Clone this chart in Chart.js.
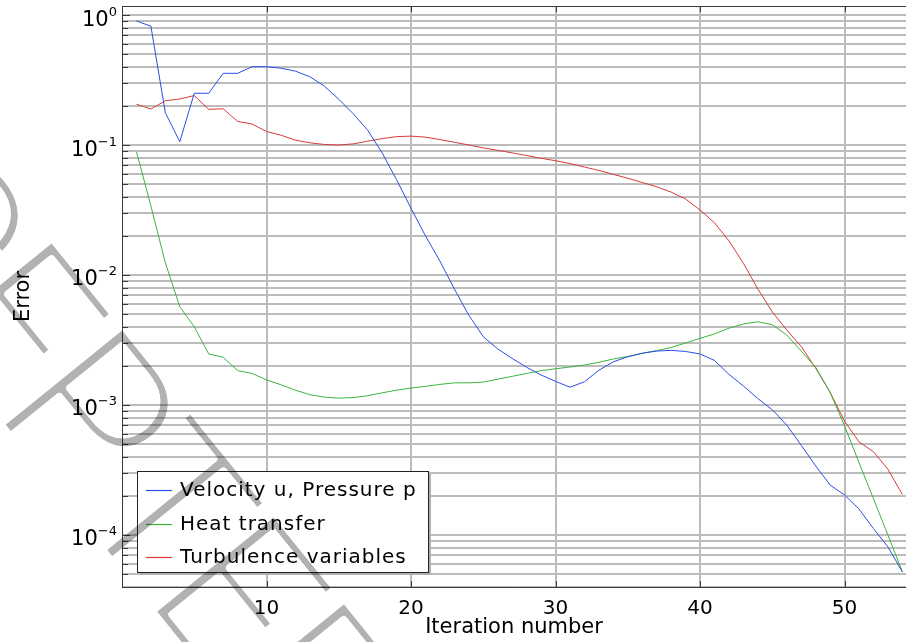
<!DOCTYPE html>
<html>
<head>
<meta charset="utf-8">
<title>Convergence plot</title>
<script src="https://cdn.jsdelivr.net/npm/chart.js@4.4.1/dist/chart.umd.min.js"></script>
<style>
  html, body { margin: 0; padding: 0; background: #ffffff; }
  #wrap { width: 906px; height: 642px; }
</style>
</head>
<body>
<div id="wrap"><canvas id="chart" width="906" height="642"></canvas></div>
<script>
// Solver error per iteration for each group of variables
const iterations = [
  1, 2, 3, 4, 5, 6, 7, 8, 9, 10, 11, 12, 13, 14, 15, 16, 17, 18,
  19, 20, 21, 22, 23, 24, 25, 26, 27, 28, 29, 30, 31, 32, 33, 34, 35, 36,
  37, 38, 39, 40, 41, 42, 43, 44, 45, 46, 47, 48, 49, 50, 51, 52, 53, 54
];
const velocityPressure = [
  0.90, 0.82, 0.177, 0.106, 0.25, 0.25, 0.356, 0.356, 0.40, 0.40, 0.39, 0.37, 0.335, 0.284, 0.225, 0.174, 0.13, 0.087,
  0.054, 0.0326, 0.0200, 0.0128, 0.0078, 0.0049, 0.00335, 0.0027, 0.00228, 0.00195, 0.0017, 0.00152, 0.00137, 0.00151, 0.00185, 0.00215, 0.00235, 0.0025,
  0.0026, 0.00263, 0.00258, 0.00247, 0.0022, 0.00172, 0.0014, 0.00112, 0.00092, 0.00070, 0.00049, 0.00034, 0.000242, 0.000203, 0.000158, 0.000112, 0.000081, 0.000052
];
const heatTransfer = [
  0.089, 0.034, 0.0124, 0.0057, 0.0040, 0.00247, 0.00233, 0.00184, 0.00175, 0.00156, 0.00143, 0.0013, 0.0012, 0.00115, 0.00113, 0.00114, 0.00118, 0.00124,
  0.0013, 0.00135, 0.00139, 0.00144, 0.00148, 0.00148, 0.0015, 0.00158, 0.00166, 0.00175, 0.00184, 0.0019, 0.00196, 0.00203, 0.00213, 0.00226, 0.00236, 0.0025,
  0.00262, 0.00277, 0.0030, 0.00326, 0.00352, 0.0039, 0.0042, 0.00437, 0.00415, 0.00345, 0.0026, 0.00195, 0.00125, 0.00069, 0.00036, 0.00019, 0.0001, 0.000052
];
const turbulenceVariables = [
  0.206, 0.189, 0.219, 0.226, 0.24, 0.188, 0.19, 0.152, 0.145, 0.127, 0.119, 0.109, 0.104, 0.101, 0.100, 0.102, 0.107, 0.112,
  0.116, 0.117, 0.115, 0.110, 0.105, 0.100, 0.095, 0.091, 0.087, 0.083, 0.079, 0.0757, 0.072, 0.0677, 0.0637, 0.0594, 0.0555, 0.0515,
  0.0477, 0.0434, 0.0384, 0.0316, 0.0252, 0.0183, 0.0123, 0.0078, 0.0052, 0.00377, 0.00282, 0.00192, 0.00125, 0.00075, 0.00052, 0.000437, 0.00032, 0.000205
];

const seriesNames = ['Velocity u, Pressure p', 'Heat transfer', 'Turbulence variables'];
const seriesColors = ['#2a4ee6', '#3cb43c', '#d63a3a'];

const xTickValues = [10, 20, 30, 40, 50];
const yDecades = [-5, -4, -3, -2, -1, 0];
const xTitle = 'Iteration number';
const yTitle = 'Error';
const stampText = 'ACCEPTED';

const X_MIN = 0, X_MAX = 54.25;
const Y_MIN = 3.98e-5, Y_MAX = 1.173;

const FONT = '"DejaVu Sans", "Liberation Sans", sans-serif';
const GRID = '#bcbcbc';
const AXIS = '#3a3a3a';

// every 1..9 multiple of each decade inside the visible range
const yTickValues = [];
yDecades.forEach(e => {
  for (let k = 1; k <= 9; k++) {
    const v = k * Math.pow(10, e);
    if (v >= Y_MIN && v <= Y_MAX) yTickValues.push(v);
  }
});

// exponent of a power of ten, or null for the in-between ticks
function decadeOf(v) {
  const l = Math.log10(v);
  const e = Math.round(l);
  return Math.abs(l - e) < 1e-9 ? e : null;
}

function toPoints(ys) { return iterations.map((x, i) => ({ x: x, y: ys[i] })); }

// frame: top border and inward tick marks on all axes
const framePlugin = {
  id: 'frame',
  afterDraw(chart) {
    const { ctx, chartArea: a, scales } = chart;
    ctx.save();
    ctx.strokeStyle = AXIS;
    ctx.lineWidth = 1;
    ctx.beginPath();
    ctx.moveTo(a.left, a.top + 0.5);
    ctx.lineTo(a.right, a.top + 0.5);
    scales.y.ticks.forEach(t => {
      const py = Math.round(scales.y.getPixelForValue(t.value)) + 0.5;
      const len = decadeOf(t.value) !== null ? 8 : 6;
      ctx.moveTo(a.left, py);
      ctx.lineTo(a.left + len, py);
    });
    scales.x.ticks.forEach(t => {
      const px = Math.round(scales.x.getPixelForValue(t.value)) + 0.5;
      ctx.moveTo(px, a.bottom);
      ctx.lineTo(px, a.bottom - 6);
      ctx.moveTo(px, a.top);
      ctx.lineTo(px, a.top + 6);
    });
    ctx.stroke();

    // decade labels as "10" with a raised exponent
    const yScale = scales.y;
    ctx.fillStyle = '#000';
    ctx.textAlign = 'right';
    ctx.textBaseline = 'alphabetic';
    yScale.ticks.forEach(t => {
      const e = decadeOf(t.value);
      if (e === null) return;
      const py = yScale.getPixelForValue(t.value);
      const exp = String(e).replace('-', '\u2212');
      ctx.font = '13px ' + FONT;
      const ew = ctx.measureText(exp).width;
      ctx.fillText(exp, a.left - 5, py + 0.5);
      ctx.font = '21px ' + FONT;
      ctx.fillText('10', a.left - 5 - ew, py + 10.5);
    });
    ctx.restore();
  }
};

// boxed legend inside the lower-left of the plot
const boxLegendPlugin = {
  id: 'boxLegend',
  afterDraw(chart) {
    const { ctx } = chart;
    const sets = chart.data.datasets;
    const left = 137, top = 471, width = 291, height = 101;
    ctx.save();
    ctx.fillStyle = '#b0b0b0';
    ctx.fillRect(left + 3, top + 3, width, height);
    ctx.fillStyle = '#ffffff';
    ctx.fillRect(left, top, width, height);
    ctx.strokeStyle = '#222222';
    ctx.lineWidth = 1;
    ctx.strokeRect(left + 0.5, top + 0.5, width, height);
    ctx.font = '20px ' + FONT;
    ctx.textBaseline = 'middle';
    ctx.fillStyle = '#000000';
    if ('letterSpacing' in ctx) ctx.letterSpacing = '1px';
    const rows = [490, 524, 557];
    sets.forEach((ds, i) => {
      const y = rows[i];
      ctx.strokeStyle = ds.borderColor;
      ctx.lineWidth = 1.2;
      ctx.beginPath();
      ctx.moveTo(146, y + 0.5);
      ctx.lineTo(172, y + 0.5);
      ctx.stroke();
      ctx.fillText(ds.label, 180, y + 1);
    });
    ctx.restore();
  }
};

// faint diagonal stamp laid over the whole figure; the filled glyphs are
// intersected with slightly shifted copies of themselves to thin the strokes
const stampPlugin = {
  id: 'stamp',
  afterDraw(chart) {
    const { ctx, width, height } = chart;
    const off = document.createElement('canvas');
    off.width = width;
    off.height = height;
    const o = off.getContext('2d');
    o.font = '300 218px Roboto, "Open Sans", Lato, sans-serif';
    const mE = o.measureText('E');
    const pitch = 112;
    if ('letterSpacing' in o) o.letterSpacing = (pitch - mE.width) + 'px';
    const lead = o.measureText(stampText.slice(0, 3)).width;
    o.translate(51.7, 239.3);
    o.rotate(51 * Math.PI / 180);
    o.textBaseline = 'alphabetic';
    const sx = mE.actualBoundingBoxLeft - lead, sy = mE.actualBoundingBoxAscent;
    o.fillStyle = '#000';
    o.fillText(stampText, sx, sy);
    o.globalCompositeOperation = 'destination-in';
    const r = 2.5;
    for (let k = 0; k < 12; k++) {
      const ang = k * Math.PI / 6;
      o.fillText(stampText, sx + r * Math.cos(ang), sy + r * Math.sin(ang));
    }
    ctx.save();
    ctx.globalAlpha = 0.30;
    ctx.drawImage(off, 0, 0);
    ctx.restore();
  }
};

const chart = new Chart(document.getElementById('chart'), {
  type: 'line',
  data: {
    datasets: [
      { label: seriesNames[0], data: toPoints(velocityPressure), borderColor: seriesColors[0] },
      { label: seriesNames[1], data: toPoints(heatTransfer), borderColor: seriesColors[1] },
      { label: seriesNames[2], data: toPoints(turbulenceVariables), borderColor: seriesColors[2] }
    ].map(d => Object.assign(d, { borderWidth: 1, pointRadius: 0, tension: 0, fill: false }))
  },
  options: {
    responsive: false,
    animation: false,
    devicePixelRatio: 1,
    layout: { padding: { top: 6, right: 0, bottom: 0, left: 0 } },
    plugins: { legend: { display: false }, tooltip: { enabled: false } },
    scales: {
      x: {
        type: 'linear',
        min: X_MIN,
        max: X_MAX,
        afterBuildTicks: s => { s.ticks = xTickValues.map(v => ({ value: v })); },
        afterFit: s => { s.height = 55; s.paddingLeft = 0; s.paddingRight = 0; },
        ticks: { autoSkip: false, maxRotation: 0, padding: 10, color: '#000', font: { family: FONT, size: 20 } },
        grid: { color: GRID, lineWidth: 2, drawTicks: false },
        border: { display: true, color: AXIS, width: 1 },
        title: { display: true, text: xTitle, color: '#000', font: { family: FONT, size: 21 }, padding: { top: 0, bottom: 2 } }
      },
      y: {
        type: 'logarithmic',
        min: Y_MIN,
        max: Y_MAX,
        afterBuildTicks: s => { s.ticks = yTickValues.map(v => ({ value: v })); },
        afterFit: s => { s.width = 122; s.paddingTop = 0; s.paddingBottom = 0; },
        ticks: { autoSkip: false, padding: 5, color: '#000', font: { family: FONT, size: 20 }, callback: () => '' },
        grid: { color: GRID, lineWidth: 2, drawTicks: false },
        border: { display: true, color: AXIS, width: 1 },
        title: { display: true, text: yTitle, color: '#000', font: { family: FONT, size: 21 }, padding: { top: 11, bottom: 0 } }
      }
    }
  },
  plugins: [framePlugin, boxLegendPlugin, stampPlugin]
});
</script>
</body>
</html>
